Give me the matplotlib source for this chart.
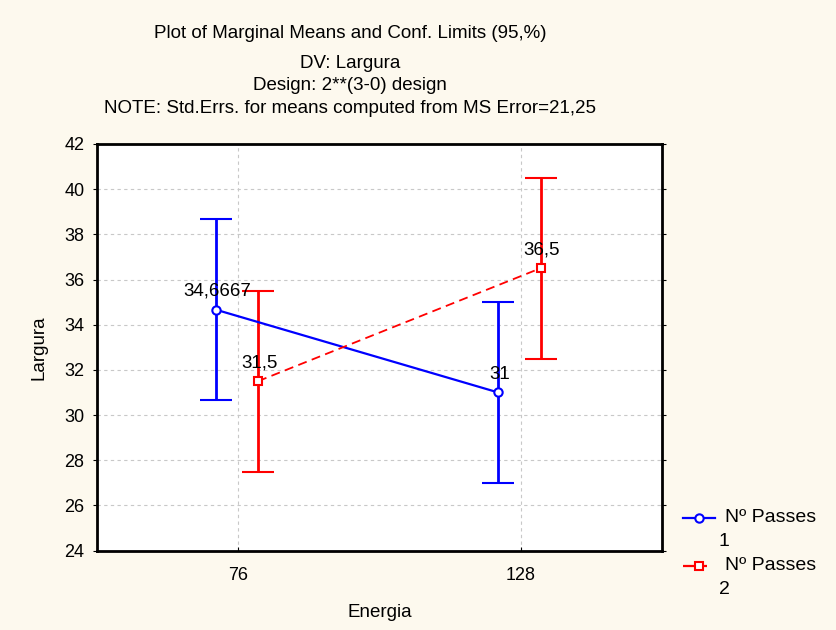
import numpy as np
import matplotlib
matplotlib.use("Agg")
import matplotlib.pyplot as plt
from matplotlib.lines import Line2D

plt.rcParams["font.family"] = ["Liberation Sans", "DejaVu Sans"]

energia = ["76", "128"]
passes = ["1", "2"]
means_p1 = [34.6667, 31.0]
means_p2 = [31.5, 36.5]
ci_p1 = [4.0, 4.0]
ci_p2 = [4.0, 4.0]
labels_p1 = ["34,6667", "31"]
labels_p2 = ["31,5", "36,5"]

title_lines = [
    "Plot of Marginal Means and Conf. Limits (95,%)",
    "DV: Largura",
    "Design: 2**(3-0) design",
    "NOTE: Std.Errs. for means computed from MS Error=21,25",
]

W, H = 836, 630
bg = "#fdf9ee"
blue, red = "#0000ff", "#ff0000"
red_dash = (0, (5, 3))

fig = plt.figure(figsize=(W / 100, H / 100), dpi=100, facecolor=bg)
ax = fig.add_axes([0.116, 0.126, 0.676, 0.6455])
ax.set_facecolor("white")

x = np.arange(len(energia))
dx1, dx2 = -0.08, 0.07

ax.errorbar(x + dx1, means_p1, yerr=ci_p1, color=blue, lw=1.6,
            elinewidth=2, capsize=11.5, capthick=2, marker="o", ms=6,
            mfc="white", mec=blue, mew=1.5, ls="-", zorder=3)
ax.errorbar(x + dx2, means_p2, yerr=ci_p2, color=red, lw=1.3,
            elinewidth=2, capsize=11.5, capthick=2, marker="s", ms=6,
            mfc="white", mec=red, mew=1.5, ls=red_dash, zorder=3)

for xi, yi, t in zip(x + dx1, means_p1, labels_p1):
    ax.annotate(t, (xi, yi), xytext=(1, 7), textcoords="offset points",
                ha="center", va="bottom", fontsize=13.5)
for xi, yi, t in zip(x + dx2, means_p2, labels_p2):
    ax.annotate(t, (xi, yi), xytext=(1, 7), textcoords="offset points",
                ha="center", va="bottom", fontsize=13.5)

ax.set_xlim(-0.5, 1.5)
ax.set_ylim(24, 42)
ax.set_xticks(x)
ax.set_xticklabels(energia)
ax.set_yticks(np.arange(24, 43, 2))
ax.tick_params(axis="y", direction="out", length=3, labelsize=13, pad=6)
ax.tick_params(axis="x", direction="in", length=3, labelsize=13, pad=12)
ax.tick_params(right=True, which="both")
ax.grid(True, color="#c8c8c8", ls=(0, (3, 3)), lw=0.8)
ax.set_axisbelow(True)
for s in ax.spines.values():
    s.set_linewidth(2)

ax.set_xlabel("Energia", fontsize=13.5, labelpad=14)
ax.set_ylabel("Largura", fontsize=13.5, labelpad=12)

ys = [0.947, 0.9, 0.8635, 0.827]
for t, yy in zip(title_lines, ys):
    fig.text(0.419, yy, t, ha="center", va="center", fontsize=13.5)

# legend drawn by hand so the key sits on the first text line
def px(xp, yp):
    return xp / W, 1 - yp / H

entries = [(blue, "-", "o", 518, 715), (red, red_dash, "s", 566, 707)]
for (c, ls, mk, yp, xend), p in zip(entries, passes):
    (x0, y0), (x1, _) = px(683, yp), px(xend, yp)
    xm, _ = px(699, yp)
    fig.add_artist(Line2D([x0, x1], [y0, y0], color=c, ls=ls, lw=1.6,
                          transform=fig.transFigure))
    fig.add_artist(Line2D([xm], [y0], color=c, marker=mk, ms=6,
                          mfc="white", mec=c, mew=1.5,
                          transform=fig.transFigure))
    tx, ty = px(725, yp)
    fig.text(tx, ty, "Nº Passes", ha="left", va="center", fontsize=14)
    tx, ty = px(719, yp + 24)
    fig.text(tx, ty, p, ha="left", va="center", fontsize=14)

fig.savefig("out.png", dpi=100, facecolor=bg)
